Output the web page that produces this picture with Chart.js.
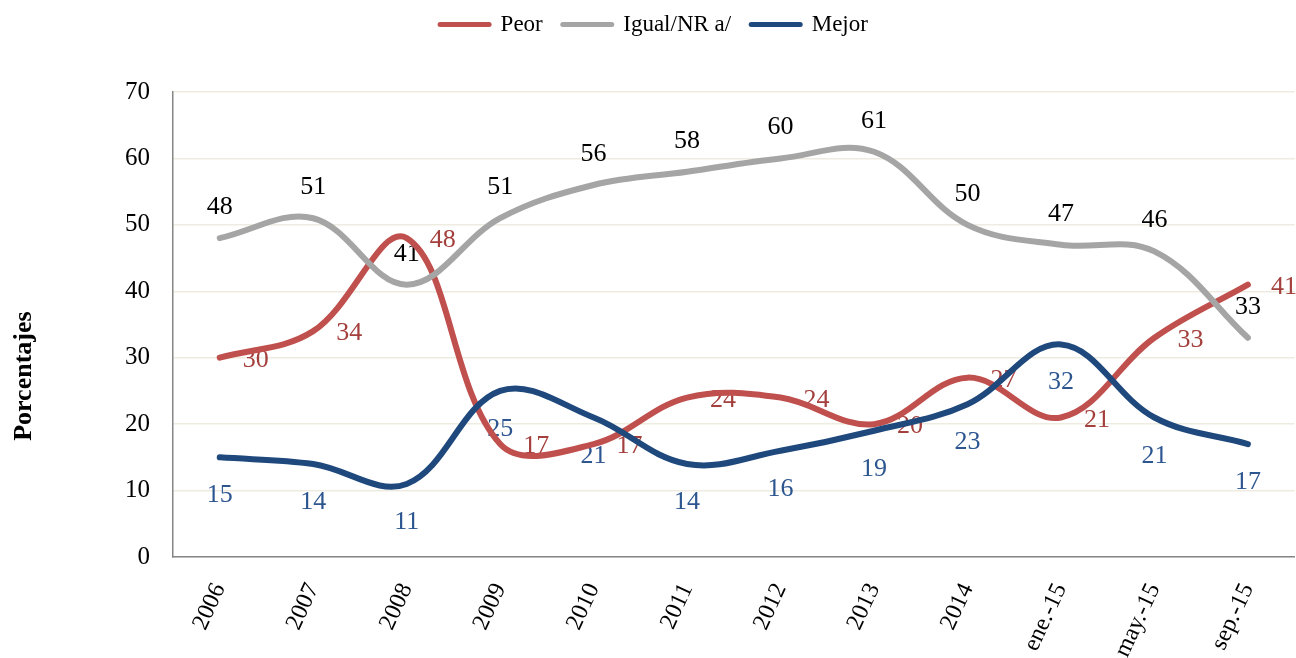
<!DOCTYPE html>
<html>
<head>
<meta charset="utf-8">
<script src="https://cdn.jsdelivr.net/npm/chart.js@4/dist/chart.umd.min.js"></script>
<style>
  html, body { margin: 0; padding: 0; background: #fff; }
  #wrap { width: 1296px; height: 658px; position: relative; }
</style>
</head>
<body>
<div id="wrap"><canvas id="c"></canvas></div>
<script>
const categories = ['2006','2007','2008','2009','2010','2011','2012','2013','2014','ene.-15','may.-15','sep.-15'];
const peor  = [30,34,48,17,17,24,24,20,27,21,33,41];
const igual = [48,51,41,51,56,58,60,61,50,47,46,33];
const mejor = [15,14,11,25,21,14,16,19,23,32,21,17];
const seriesNames = ['Peor','Igual/NR a/','Mejor'];
const yMin = 0, yMax = 70, yStep = 10;
const yTitle = 'Porcentajes';

const SERIF = "'Liberation Serif', 'Times New Roman', serif";

// label styling per dataset: color, dx, dy (baseline offset)
const labelStyle = [
  { color: '#A33F3C', dx: 36, dy: 9 },
  { color: '#000000', dx: 0,  dy: -24 },
  { color: '#2D5690', dx: 0,  dy: 45 }
];

const dataLabels = {
  id: 'dataLabels',
  beforeDatasetsDraw(chart) {
    const ctx = chart.ctx;
    ctx.save();
    ctx.font = '26px ' + SERIF;
    ctx.textAlign = 'center';
    ctx.textBaseline = 'alphabetic';
    chart.data.datasets.forEach((ds, i) => {
      const meta = chart.getDatasetMeta(i);
      if (meta.hidden) return;
      const st = labelStyle[i];
      ctx.fillStyle = st.color;
      meta.data.forEach((pt, j) => {
        ctx.fillText(String(ds.data[j]), pt.x + st.dx, pt.y + st.dy);
      });
    });
    ctx.restore();
  }
};

// y-axis title beside the y scale, placed below centre as in the reference
const yAxisTitle = {
  id: 'yAxisTitle',
  afterDraw(chart) {
    const ctx = chart.ctx;
    const a = chart.chartArea;
    const cy = a.top + (a.bottom - a.top) * 0.611;
    ctx.save();
    ctx.translate(24, cy);
    ctx.rotate(-Math.PI / 2);
    ctx.font = 'bold 26px ' + SERIF;
    ctx.fillStyle = '#000';
    ctx.textAlign = 'center';
    ctx.textBaseline = 'middle';
    ctx.fillText(yTitle, 0, 0);
    ctx.restore();
  }
};

const legendHeight = {
  id: 'legendHeight',
  beforeLayout(chart) {
    const lg = chart.legend;
    if (lg && !lg.__patched) {
      const f = lg.fit;
      lg.fit = function () { f.call(this); this.height = 92; };
      const d = lg.draw;
      lg.draw = function () {
        const ctx = this.ctx;
        ctx.save();
        ctx.translate(6, -7);
        d.apply(this, arguments);
        ctx.restore();
      };
      lg.__patched = true;
    }
  }
};

new Chart(document.getElementById('c'), {
  type: 'line',
  data: {
    labels: categories,
    datasets: [
      { label: seriesNames[0], data: peor,  borderColor: '#C0504D', backgroundColor: '#C0504D', order: 3 },
      { label: seriesNames[1], data: igual, borderColor: '#A5A5A5', backgroundColor: '#A5A5A5', order: 2 },
      { label: seriesNames[2], data: mejor, borderColor: '#1F497D', backgroundColor: '#1F497D', order: 1 }
    ]
  },
  options: {
    responsive: true,
    maintainAspectRatio: false,
    animation: false,
    layout: { padding: 0 },
    elements: {
      line: { borderWidth: 6, tension: 0.37, borderCapStyle: 'round', borderJoinStyle: 'round', fill: false },
      point: { radius: 0, hoverRadius: 0 }
    },
    plugins: {
      tooltip: { enabled: false },
      legend: {
        position: 'top',
        labels: {
          usePointStyle: true,
          pointStyleWidth: 49,
          padding: 20,
          color: '#000',
          font: { family: SERIF, size: 23 },
          generateLabels: (chart) => chart.data.datasets.map((ds, i) => ({
            text: ds.label,
            fillStyle: ds.borderColor,
            strokeStyle: ds.borderColor,
            lineWidth: 5,
            lineCap: 'round',
            pointStyle: 'line',
            fontColor: '#000',
            hidden: !chart.isDatasetVisible(i),
            datasetIndex: i
          }))
        }
      }
    },
    scales: {
      x: {
        type: 'category',
        offset: true,
        grid: { display: false, drawTicks: false },
        border: { display: true, color: '#868686', width: 1.5 },
        ticks: {
          color: '#000',
          font: { family: SERIF, size: 24 },
          minRotation: 65,
          maxRotation: 65,
          autoSkip: false,
          padding: 22
        },
        afterFit: (s) => { s.height = 101; }
      },
      y: {
        min: yMin,
        max: yMax,
        grid: { color: '#EEECE1', lineWidth: 1.5, drawTicks: false },
        border: { display: true, color: '#868686', width: 1.5 },
        ticks: {
          stepSize: yStep,
          color: '#000',
          font: { family: SERIF, size: 25 },
          padding: 23
        },
        title: { display: false, text: yTitle },
        afterFit: (s) => { s.width = 173; }
      }
    }
  },
  plugins: [legendHeight, dataLabels, yAxisTitle]
});
</script>
</body>
</html>
